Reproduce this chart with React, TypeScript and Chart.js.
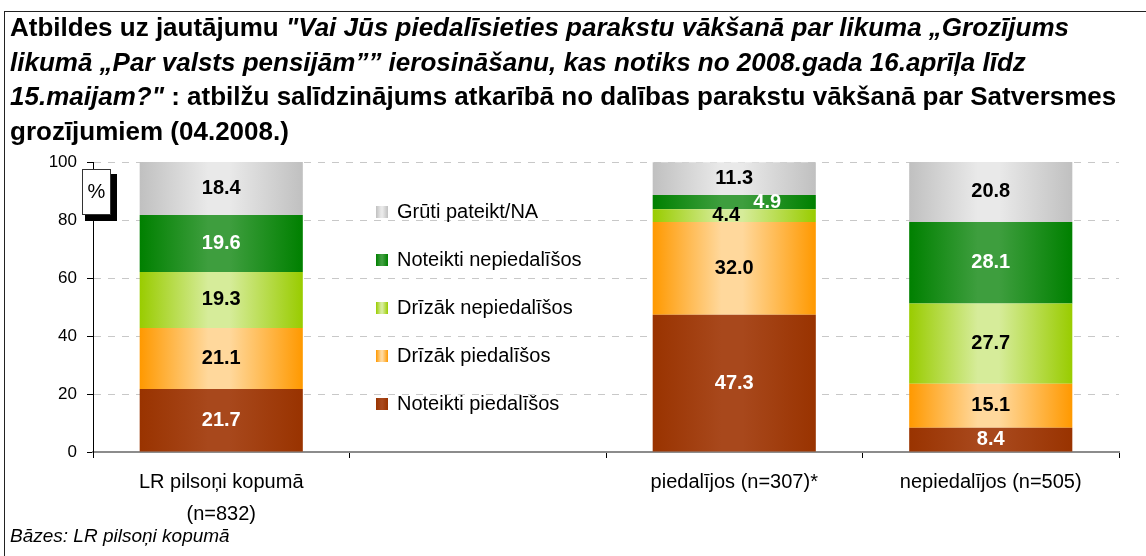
import React, { useEffect, useRef } from 'react';
import { Chart, registerables } from 'chart.js';

Chart.register(...registerables);

// ---- data ----
const categories: (string | string[])[] = [
  ['LR pilsoņi kopumā', '(n=832)'],
  '',
  'piedalījos (n=307)*',
  'nepiedalījos (n=505)',
];
const seriesNames = [
  'Noteikti piedalīšos',
  'Drīzāk piedalīšos',
  'Drīzāk nepiedalīšos',
  'Noteikti nepiedalīšos',
  'Grūti pateikt/NA',
];
const noteiktiPiedalisos = [21.7, null, 47.3, 8.4];
const drizakPiedalisos = [21.1, null, 32.0, 15.1];
const drizakNepiedalisos = [19.3, null, 4.4, 27.7];
const noteiktiNepiedalisos = [19.6, null, 4.9, 28.1];
const grutiPateikt = [18.4, null, 11.3, 20.8];
const yTickValues = [0, 20, 40, 60, 80, 100];

// ---- styles ----
const edgeColors = ['#993300', '#ff9900', '#99cc00', '#008000', '#c0c0c0'];
const centerColors = ['#a8481c', '#ffd89c', '#d6ec9a', '#3e9e3e', '#e9e9e9'];
const valueTextColors = ['#ffffff', '#000000', '#000000', '#ffffff', '#000000'];
const labelOffsets: Record<string, [number, number]> = {
  '2-2': [-8, 0],
  '3-2': [33, 0],
};
const BAR_PCT = 0.636;
const FONT = '"Liberation Sans", Arial, sans-serif';

function makeGradient(c: CanvasRenderingContext2D, x0: number, x1: number, i: number) {
  const g = c.createLinearGradient(x0, 0, x1, 0);
  g.addColorStop(0, edgeColors[i]);
  g.addColorStop(0.42, centerColors[i]);
  g.addColorStop(0.55, centerColors[i]);
  g.addColorStop(1, edgeColors[i]);
  return g;
}

function barFill(i: number) {
  return (ctx: any) => {
    const chart = ctx.chart;
    const xs = chart.scales && chart.scales.x;
    if (!xs || !chart.chartArea || ctx.dataIndex == null) return edgeColors[i];
    const cw = (xs.right - xs.left) / categories.length;
    const cx = xs.getPixelForValue(ctx.dataIndex);
    const w = cw * BAR_PCT;
    return makeGradient(chart.ctx, cx - w / 2, cx + w / 2, i);
  };
}

const valueLabelsPlugin = {
  id: 'valueLabels',
  afterDatasetsDraw(chart: any) {
    const c: CanvasRenderingContext2D = chart.ctx;
    c.save();
    c.font = `bold 20px ${FONT}`;
    c.textAlign = 'center';
    c.textBaseline = 'middle';
    chart.data.datasets.forEach((ds: any, di: number) => {
      const meta = chart.getDatasetMeta(di);
      meta.data.forEach((el: any, i: number) => {
        const v = ds.data[i];
        if (v == null) return;
        const p = el.getProps(['x', 'y', 'base'], true);
        const off = labelOffsets[`${di}-${i}`] || [0, 0];
        c.fillStyle = valueTextColors[di];
        c.fillText(v.toFixed(1), p.x + off[0], (p.y + p.base) / 2 + off[1]);
      });
    });
    c.restore();
  },
};

const legendPlugin = {
  id: 'innerLegend',
  afterDraw(chart: any) {
    const c: CanvasRenderingContext2D = chart.ctx;
    const area = chart.chartArea;
    const x0 = area.left + 283;
    c.save();
    c.font = `20px ${FONT}`;
    c.textBaseline = 'middle';
    c.textAlign = 'left';
    const n = chart.data.datasets.length;
    for (let k = 0; k < n; k++) {
      const di = n - 1 - k;
      const y = area.top + 50 + k * 48;
      c.fillStyle = makeGradient(c, x0, x0 + 12, di);
      c.fillRect(x0, y - 6, 12, 12);
      c.fillStyle = '#000';
      c.fillText(chart.data.datasets[di].label, x0 + 21, y);
    }
    c.restore();
  },
};

const percentBoxPlugin = {
  id: 'percentBox',
  afterDraw(chart: any) {
    const c: CanvasRenderingContext2D = chart.ctx;
    const area = chart.chartArea;
    const bx = area.left - 11;
    const by = area.top + 7;
    c.save();
    c.fillStyle = '#000';
    c.fillRect(bx + 3, by + 5, 32, 47);
    c.fillStyle = '#fff';
    c.fillRect(bx, by, 29, 46);
    c.strokeStyle = '#333';
    c.lineWidth = 1;
    c.strokeRect(bx + 0.5, by + 0.5, 28, 45);
    c.fillStyle = '#000';
    c.font = `20px ${FONT}`;
    c.textAlign = 'center';
    c.textBaseline = 'middle';
    c.fillText('%', bx + 14.5, by + 23);
    c.restore();
  },
};

export default function App() {
  const canvasRef = useRef<HTMLCanvasElement | null>(null);

  useEffect(() => {
    if (!canvasRef.current) return;
    const seriesData = [
      noteiktiPiedalisos,
      drizakPiedalisos,
      drizakNepiedalisos,
      noteiktiNepiedalisos,
      grutiPateikt,
    ];
    const chart = new Chart(canvasRef.current, {
      type: 'bar',
      data: {
        labels: categories as any,
        datasets: seriesData.map((d, i) => ({
          label: seriesNames[i],
          data: d as any,
          backgroundColor: barFill(i) as any,
          borderWidth: 0,
          barPercentage: BAR_PCT,
          categoryPercentage: 1,
        })),
      },
      options: {
        animation: false,
        responsive: false,
        maintainAspectRatio: false,
        layout: { padding: { top: 162, right: 27, left: 0, bottom: 0 } },
        plugins: {
          legend: { display: false },
          tooltip: { enabled: false },
          title: { display: false },
        },
        scales: {
          x: {
            stacked: true,
            grid: {
              offset: true,
              drawOnChartArea: false,
              drawTicks: true,
              tickLength: 6,
              tickColor: '#000',
              tickWidth: 1,
            } as any,
            border: { display: true, color: '#8c8c8c', width: 2 },
            ticks: {
              color: '#000',
              font: { family: FONT, size: 20, lineHeight: 1.6 },
              padding: 8,
              maxRotation: 0,
              autoSkip: false,
            },
            afterFit: (s: any) => {
              s.height = 104;
            },
          },
          y: {
            stacked: true,
            min: 0,
            max: 100,
            afterBuildTicks: (s: any) => {
              s.ticks = yTickValues.map((v) => ({ value: v }));
            },
            grid: {
              color: (ctx: any) => (ctx.tick && ctx.tick.value === 0 ? 'rgba(0,0,0,0)' : '#c8c8c8'),
              lineWidth: 1,
              tickLength: 6,
              tickColor: '#000',
              tickBorderDash: [],
            } as any,
            border: { display: true, color: '#000', width: 1, dash: [7, 7] },
            ticks: {
              color: '#000',
              font: { family: FONT, size: 17 },
              padding: 10,
            },
            afterFit: (s: any) => {
              s.width = 93;
            },
          },
        },
      },
      plugins: [valueLabelsPlugin, legendPlugin, percentBoxPlugin],
    });
    return () => chart.destroy();
  }, []);

  return (
    <div
      style={{
        position: 'absolute',
        left: 0,
        top: 0,
        width: 1146,
        height: 556,
        overflow: 'hidden',
        background: '#fff',
        fontFamily: FONT,
        color: '#000',
      }}
    >
      <div
        style={{
          position: 'absolute',
          left: 4,
          top: 11,
          width: 1200,
          height: 600,
          borderTop: '1px solid #222',
          borderLeft: '1px solid #222',
        }}
      />
      <canvas
        ref={canvasRef}
        width={1146}
        height={556}
        style={{ position: 'absolute', left: 0, top: 0, width: 1146, height: 556 }}
      />
      <div
        style={{
          position: 'absolute',
          left: 10,
          top: 10,
          fontWeight: 'bold',
          fontSize: 26,
          lineHeight: '34.7px',
          whiteSpace: 'nowrap',
        }}
      >
        Atbildes uz jautājumu <i>"Vai Jūs piedalīsieties parakstu vākšanā par likuma „Grozījums</i>
        <br />
        <i>likumā „Par valsts pensijām”” ierosināšanu, kas notiks no 2008.gada 16.aprīļa līdz</i>
        <br />
        <i>15.maijam?"</i> : atbilžu salīdzinājums atkarībā no dalības parakstu vākšanā par Satversmes
        <br />
        grozījumiem (04.2008.)
      </div>
      <div
        style={{
          position: 'absolute',
          left: 10,
          top: 526,
          fontStyle: 'italic',
          fontSize: 19,
          lineHeight: '20px',
          whiteSpace: 'nowrap',
        }}
      >
        Bāzes: LR pilsoņi kopumā
      </div>
    </div>
  );
}
